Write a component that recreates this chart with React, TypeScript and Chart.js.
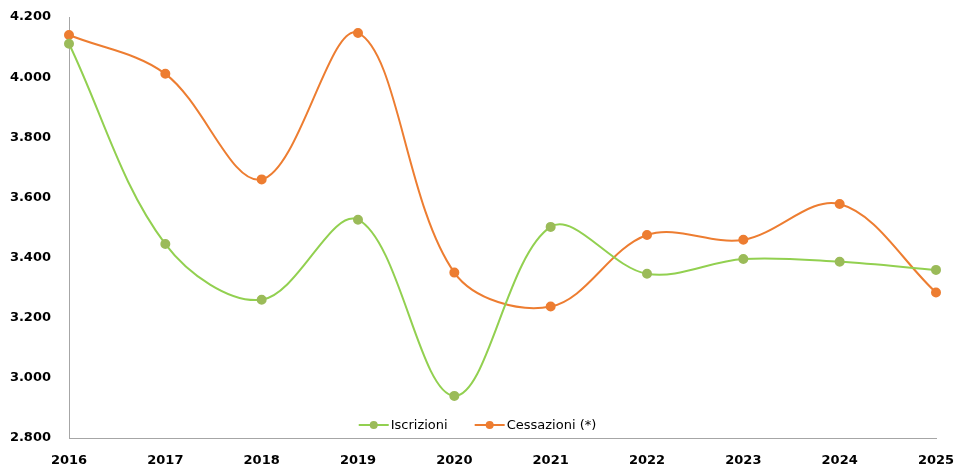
import React, { useEffect, useRef } from "react";
import { Chart, registerables } from "chart.js";

Chart.register(...registerables);

const categories = ["2016", "2017", "2018", "2019", "2020", "2021", "2022", "2023", "2024", "2025"];
const iscrizioni = [4111, 3445, 3260, 3526, 2940, 3502, 3346, 3395, 3386, 3359];
const cessazioni = [4140, 4011, 3660, 4147, 3350, 3237, 3475, 3459, 3578, 3284];
const seriesNames = ["Iscrizioni", "Cessazioni (*)"];
const yMin = 2800;
const yMax = 4200;
const yStep = 200;

const fmt = (v: number) => {
  const t = Math.floor(v / 1000);
  const r = Math.round(v % 1000);
  return t > 0 ? `${t}.${String(r).padStart(3, "0")}` : String(r);
};

const legendPlugin = {
  id: "inlineLegend",
  afterDraw(chart: any) {
    const ctx = chart.ctx as CanvasRenderingContext2D;
    const area = chart.chartArea;
    const y = area.bottom - 13;
    ctx.save();
    ctx.font = '13px "DejaVu Sans"';
    ctx.textBaseline = "middle";
    const lineW = 30;
    const gapText = 2;
    const gapItem = 27;
    const items = chart.data.datasets.map((d: any) => ({
      label: d.label as string,
      line: d.borderColor as string,
      point: d.pointBackgroundColor as string,
      w: ctx.measureText(d.label).width,
    }));
    const total = items.reduce((s: number, it: any) => s + lineW + gapText + it.w, 0) + gapItem * (items.length - 1);
    let x = chart.width / 2 - total / 2;
    for (const it of items) {
      ctx.strokeStyle = it.line;
      ctx.lineWidth = 2;
      ctx.beginPath();
      ctx.moveTo(x, y);
      ctx.lineTo(x + lineW, y);
      ctx.stroke();
      ctx.fillStyle = it.point;
      ctx.beginPath();
      ctx.arc(x + lineW / 2, y, 4, 0, Math.PI * 2);
      ctx.fill();
      ctx.fillStyle = "#000000";
      ctx.textAlign = "left";
      ctx.fillText(it.label, x + lineW + gapText, y + 1);
      x += lineW + gapText + it.w + gapItem;
    }
    ctx.restore();
  },
};

export default function App() {
  const ref = useRef<HTMLCanvasElement | null>(null);
  useEffect(() => {
    document.body.style.margin = "0";
    if (!ref.current) return;
    Chart.defaults.font.family = '"DejaVu Sans", Verdana, sans-serif';
    const chart = new Chart(ref.current, {
      type: "line",
      data: {
        labels: categories,
        datasets: [
          {
            label: seriesNames[0],
            data: iscrizioni,
            borderColor: "#92d050",
            backgroundColor: "#9bbb59",
            pointBackgroundColor: "#9bbb59",
            pointBorderColor: "#9bbb59",
            borderWidth: 2,
            pointRadius: 4,
            tension: 0.35,
          },
          {
            label: seriesNames[1],
            data: cessazioni,
            borderColor: "#ed7d31",
            backgroundColor: "#ed7d31",
            pointBackgroundColor: "#ed7d31",
            pointBorderColor: "#ed7d31",
            borderWidth: 2,
            pointRadius: 4,
            tension: 0.35,
          },
        ],
      },
      options: {
        animation: false,
        responsive: false,
        maintainAspectRatio: false,
        layout: { padding: { top: 17, right: 19, left: 0, bottom: 0 } },
        plugins: { legend: { display: false }, tooltip: { enabled: false } },
        scales: {
          x: {
            offset: false,
            grid: { display: false },
            border: { display: true, color: "#a6a6a6", width: 1 },
            ticks: {
              color: "#000000",
              font: { size: 13, weight: "bold" },
              padding: 7,
              maxRotation: 0,
              autoSkip: false,
            },
            afterFit: (s: any) => {
              s.height = 28;
              s.paddingRight = 0;
              s.paddingLeft = 0;
            },
          },
          y: {
            min: yMin,
            max: yMax,
            grid: { display: false },
            border: { display: true, color: "#a6a6a6", width: 1 },
            ticks: {
              stepSize: yStep,
              color: "#000000",
              font: { size: 13, weight: "bold" },
              padding: 10,
              callback: (v: any) => fmt(Number(v)),
            },
            afterFit: (s: any) => {
              s.width = 69;
              s.paddingTop = 0;
              s.paddingBottom = 0;
            },
          },
        },
      },
      plugins: [legendPlugin],
    });
    return () => chart.destroy();
  }, []);
  return (
    <div style={{ width: 955, height: 466 }}>
      <canvas ref={ref} width={955} height={466} style={{ width: 955, height: 466 }} />
    </div>
  );
}
